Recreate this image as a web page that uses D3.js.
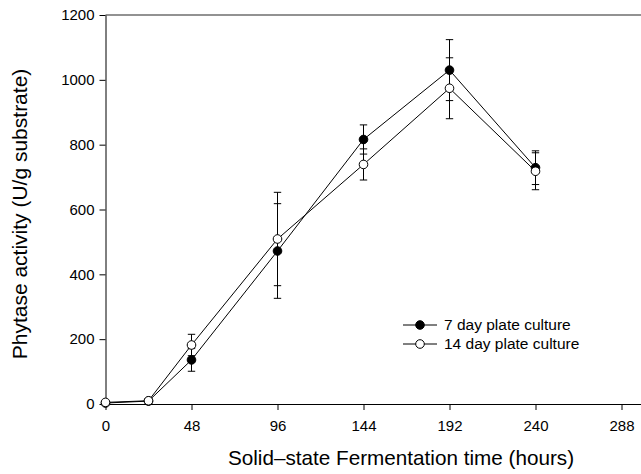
<!DOCTYPE html>
<html>
<head>
<meta charset="utf-8">
<title>Phytase activity</title>
<style>
body { margin: 0; background: #fff; }
text { font-family: "Liberation Sans", Arial, sans-serif; fill: #000; }
</style>
</head>
<body>
<svg width="641" height="474"></svg>
<script src="https://cdn.jsdelivr.net/npm/d3@7"></script>
<script>

// hours of solid-state fermentation
var hours = [0, 24, 48, 96, 144, 192, 240];

// 7 day plate culture (filled)
var day7 = [3, 9, 136, 472, 816, 1030, 729];
var day7Err = [0, 0, 35, 146, 45, 94, 52];

// 14 day plate culture (open)
var day14 = [5, 10, 182, 509, 739, 974, 718];
var day14Err = [0, 0, 33, 144, 48, 94, 57];

var xTicks = [0, 48, 96, 144, 192, 240, 288];
var yTicks = [0, 200, 400, 600, 800, 1000, 1200];

var seriesNames = ["7 day plate culture", "14 day plate culture"];

var svg = d3.select("svg");

var x = d3.scaleLinear().domain([0, 300]).range([105.5, 643]);
var y = d3.scaleLinear().domain([0, 1200]).range([404, 15]);

// top frame line
svg.append("line")
    .attr("x1", x(0)).attr("x2", 641)
    .attr("y1", y(1200)).attr("y2", y(1200))
    .attr("stroke", "#6e6e6e").attr("stroke-width", 1.5);

var xAxis = svg.append("g")
    .attr("transform", "translate(0," + y(0) + ")")
    .call(d3.axisBottom(x).tickValues(xTicks).tickFormat(d3.format("d"))
      .tickSize(6).tickSizeOuter(0).tickPadding(10));

var yAxis = svg.append("g")
    .attr("transform", "translate(" + x(0) + ",0)")
    .call(d3.axisLeft(y).tickValues(yTicks).tickFormat(d3.format("d"))
      .tickSize(6).tickSizeOuter(0).tickPadding(5));

[xAxis, yAxis].forEach(function(g) {
  g.select(".domain").attr("stroke", "#000");
  g.selectAll(".tick line").attr("stroke", "#000");
  g.selectAll(".tick text")
      .style("font-family", "'Liberation Sans', Arial, sans-serif")
      .style("font-size", "15px");
});

svg.append("text")
    .attr("x", 401).attr("y", 465)
    .attr("text-anchor", "middle")
    .style("font-size", "20.7px")
    .text("Solid\u2013state Fermentation time (hours)");

svg.append("text")
    .attr("transform", "translate(27,214) rotate(-90)")
    .attr("text-anchor", "middle")
    .style("font-size", "21px")
    .text("Phytase activity (U/g substrate)");

var series = [
  { name: seriesNames[0], vals: day7, err: day7Err, fill: "#000" },
  { name: seriesNames[1], vals: day14, err: day14Err, fill: "#fff" }
];

var line = d3.line()
    .x(function(d) { return x(d.h); })
    .y(function(d) { return y(d.v); });

// lines and error bars first
series.forEach(function(s) {
  var pts = hours.map(function(h, i) { return { h: h, v: s.vals[i], e: s.err[i] }; });
  s.pts = pts;

  svg.append("path")
      .datum(pts)
      .attr("d", line)
      .attr("fill", "none")
      .attr("stroke", "#000")
      .attr("stroke-width", 1);

  var eb = svg.append("g").selectAll("g")
    .data(pts.filter(function(d) { return d.e > 0; }))
    .enter().append("g")
      .attr("stroke", "#000").attr("stroke-width", 1);

  eb.append("line")
      .attr("x1", function(d) { return x(d.h); })
      .attr("x2", function(d) { return x(d.h); })
      .attr("y1", function(d) { return y(d.v - d.e); })
      .attr("y2", function(d) { return y(d.v + d.e); });

  [-1, 1].forEach(function(sign) {
    eb.append("line")
        .attr("x1", function(d) { return x(d.h) - 3.7; })
        .attr("x2", function(d) { return x(d.h) + 3.7; })
        .attr("y1", function(d) { return y(d.v + sign * d.e); })
        .attr("y2", function(d) { return y(d.v + sign * d.e); });
  });
});

// markers
series.forEach(function(s) {
  svg.append("g").selectAll("circle")
    .data(s.pts)
    .enter().append("circle")
      .attr("cx", function(d) { return x(d.h); })
      .attr("cy", function(d) { return y(d.v); })
      .attr("r", 4.3)
      .attr("fill", s.fill)
      .attr("stroke", "#000")
      .attr("stroke-width", 1);
});

// legend
var legend = svg.append("g").selectAll("g")
  .data(series)
  .enter().append("g")
    .attr("transform", function(d, i) { return "translate(403," + (325 + i * 19) + ")"; });

legend.append("line")
    .attr("x1", 0).attr("x2", 34)
    .attr("stroke", "#000");

legend.append("circle")
    .attr("cx", 17).attr("r", 4.3)
    .attr("fill", function(d) { return d.fill; })
    .attr("stroke", "#000");

legend.append("text")
    .attr("x", 41).attr("dy", "0.35em")
    .style("font-size", "15.5px")
    .text(function(d) { return d.name; });

</script>
</body>
</html>
